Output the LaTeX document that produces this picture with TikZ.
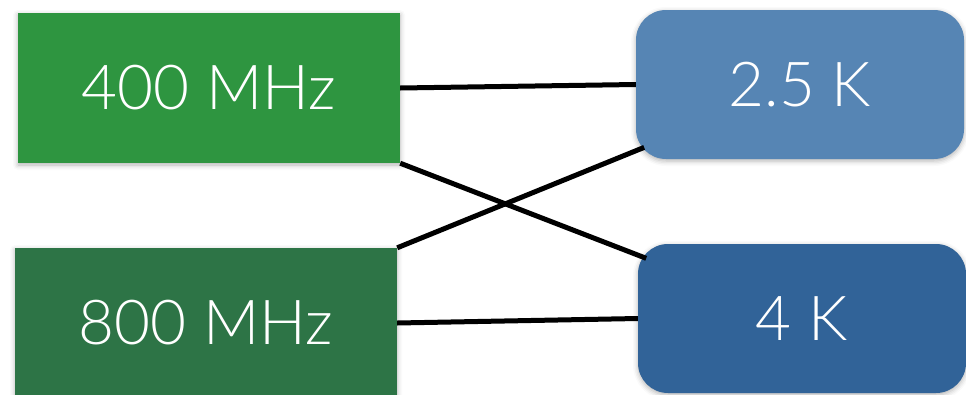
\documentclass[tikz,border=0pt]{standalone}
\usepackage{fontspec}
\setmainfont{Lato}[UprightFont={* Light}]
\usetikzlibrary{shadows.blur}
\definecolor{greenA}{RGB}{46,149,64}
\definecolor{greenB}{RGB}{45,116,70}
\definecolor{blueA}{RGB}{86,133,180}
\definecolor{blueB}{RGB}{49,99,152}
\tikzset{
  boxbase/.style={inner sep=0pt, text=white, font=\fontsize{62}{70}\selectfont,
    blur shadow={shadow xshift=0pt, shadow yshift=-2pt, shadow blur radius=5pt, shadow opacity=30}},
  freqbox/.style={boxbase, rectangle, minimum width=382pt, minimum height=150pt},
  tempbox/.style={boxbase, rectangle, rounded corners=30pt, minimum width=328pt, minimum height=149pt},
  link/.style={line width=5pt, black},
  cornerlink/.style={link, shorten >=-9pt}
}
\begin{document}
\begin{tikzpicture}[x=1pt, y=-1pt]
  \useasboundingbox (0,0) rectangle (966,394);
  % frequency boxes
  \node[freqbox, fill=greenA] (f400) at (209,88) {400 MHz};
  \node[freqbox, fill=greenB] (f800) at (206,323) {800 MHz};
  % temperature boxes
  \node[tempbox, fill=blueA] (t25) at (800,84.5) {2.5 K};
  \node[tempbox, fill=blueB] (t4) at (802,318.5) {4 K};
  % connections (links into the rounded corners reach past the nominal border)
  \draw[link] (f400.east) -- (t25.west);
  \draw[cornerlink] (f400.south east) -- (t4);
  \draw[cornerlink] (f800.north east) -- (t25);
  \draw[link] (f800.east) -- (t4.west);
\end{tikzpicture}
\end{document}
